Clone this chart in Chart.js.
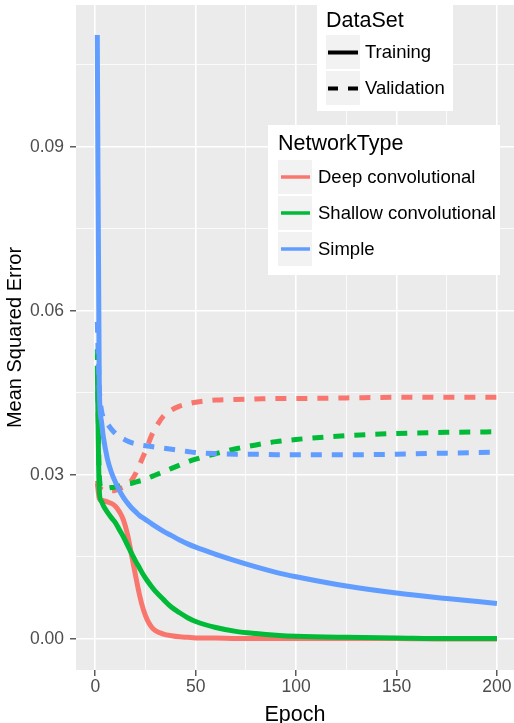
<!DOCTYPE html>
<html>
<head>
<meta charset="utf-8">
<title>Mean Squared Error per Epoch</title>
<script src="https://cdn.jsdelivr.net/npm/chart.js@4"></script>
<style>
  html, body { margin: 0; padding: 0; background: #ffffff; }
  #wrap { width: 514px; height: 723px; }
</style>
</head>
<body>
<div id="wrap"><canvas id="graficoMSE" width="514" height="723"></canvas></div>
<script>
// --- dados ---
const epochs = [1, 2, 3, 4, 6, 8, 10, 12, 14, 16, 18, 20, 22, 24, 26, 28, 30, 34, 38, 42, 46, 50, 60, 70, 80, 90, 100, 125, 150, 175, 200];

const deepTraining = [0.0285, 0.0257, 0.0254, 0.0253, 0.0251, 0.0248, 0.0243, 0.0233, 0.0218, 0.0192, 0.0155, 0.0117, 0.0081, 0.0053, 0.0034, 0.0022, 0.0015, 0.0009, 0.0006, 0.0004, 0.0003, 0.0002, 0.0002, 0.0001, 0.0001, 0.0001, 0.0001, 0.0001, 0.0001, 0.0000, 0.0000];
const deepValidation = [0.0290, 0.0278, 0.0274, 0.0272, 0.0271, 0.0271, 0.0272, 0.0275, 0.0278, 0.0283, 0.0290, 0.0302, 0.0318, 0.0335, 0.0353, 0.0372, 0.0386, 0.0408, 0.0419, 0.0426, 0.0430, 0.0433, 0.0437, 0.0438, 0.0439, 0.0440, 0.0440, 0.0441, 0.0442, 0.0442, 0.0442];

const shallowTraining = [0.0500, 0.0270, 0.0252, 0.0244, 0.0232, 0.0222, 0.0213, 0.0200, 0.0187, 0.0172, 0.0157, 0.0143, 0.0130, 0.0117, 0.0106, 0.0096, 0.0087, 0.0072, 0.0058, 0.0048, 0.0039, 0.0032, 0.0021, 0.0014, 0.0010, 0.0007, 0.0005, 0.0003, 0.0002, 0.0001, 0.0001];
const shallowValidation = [0.0530, 0.0300, 0.0277, 0.0276, 0.0276, 0.0277, 0.0278, 0.0280, 0.0282, 0.0284, 0.0285, 0.0287, 0.0289, 0.0291, 0.0294, 0.0297, 0.0300, 0.0306, 0.0312, 0.0318, 0.0324, 0.0329, 0.0339, 0.0348, 0.0355, 0.0361, 0.0365, 0.0372, 0.0376, 0.0378, 0.0379];

const simpleTraining = [0.1105, 0.0460, 0.0400, 0.0370, 0.0330, 0.0305, 0.0287, 0.0272, 0.0259, 0.0249, 0.0240, 0.0233, 0.0226, 0.0221, 0.0216, 0.0211, 0.0206, 0.0197, 0.0189, 0.0181, 0.0174, 0.0168, 0.0155, 0.0143, 0.0132, 0.0122, 0.0114, 0.0097, 0.0084, 0.0074, 0.0065];
const simpleValidation = [0.0580, 0.0460, 0.0420, 0.0405, 0.0394, 0.0384, 0.0376, 0.0370, 0.0366, 0.0362, 0.0359, 0.0357, 0.0355, 0.0354, 0.0353, 0.0352, 0.0351, 0.0349, 0.0347, 0.0345, 0.0343, 0.0341, 0.0339, 0.0338, 0.0338, 0.0337, 0.0337, 0.0337, 0.0338, 0.0340, 0.0342];

// eixos
const xTicks = [0, 25, 50, 75, 100, 125, 150, 175, 200];
const xMajor = [0, 50, 100, 150, 200];
const yTicks = [0, 0.015, 0.03, 0.045, 0.06, 0.075, 0.09, 0.105];
const yMajor = [0, 0.03, 0.06, 0.09];

// legendas
const networkTypes = ["Deep convolutional", "Shallow convolutional", "Simple"];
const dataSets = ["Training", "Validation"];

// --- estilo ---
const CORES = ["#F8766D", "#00BA38", "#619CFF"];
const FONTE = "'Liberation Sans', Arial, sans-serif";

function pontos(vals) {
    return epochs.map((e, i) => ({ x: e, y: vals[i] }));
}

function isMajor(lista, v) {
    return lista.some(m => Math.abs(m - v) < 1e-9);
}

function serie(label, vals, cor, tracejado) {
    return {
        label: label,
        data: pontos(vals),
        borderColor: cor,
        borderWidth: 5,
        borderDash: tracejado ? [11, 10] : [],
        borderCapStyle: "butt",
        borderJoinStyle: "round",
        pointRadius: 0,
        fill: false,
        cubicInterpolationMode: "monotone"
    };
}

// fundo cinza do painel
const painelFundo = {
    id: "painelFundo",
    beforeDraw(chart) {
        const { ctx, chartArea: a } = chart;
        ctx.save();
        ctx.fillStyle = "#EBEBEB";
        ctx.fillRect(a.left, a.top, a.right - a.left, a.bottom - a.top);
        ctx.restore();
    }
};

// legendas no estilo ggplot
const legendas = {
    id: "legendas",
    afterDraw(chart) {
        const ctx = chart.ctx;
        ctx.save();

        // DataSet
        ctx.fillStyle = "#ffffff";
        ctx.fillRect(317, 2, 136, 109);
        ctx.fillStyle = "#000000";
        ctx.textBaseline = "middle";
        ctx.textAlign = "left";
        ctx.font = "21.5px " + FONTE;
        ctx.fillText("DataSet", 326, 21);
        ctx.font = "18.5px " + FONTE;
        dataSets.forEach((nome, i) => {
            const y0 = 35 + i * 36;
            ctx.fillStyle = "#F2F2F2";
            ctx.fillRect(326, y0, 34, 34);
            ctx.strokeStyle = "#000000";
            ctx.lineWidth = 4;
            ctx.lineCap = "butt";
            ctx.setLineDash(i === 1 ? [10, 10] : []);
            ctx.beginPath();
            ctx.moveTo(328, y0 + 17.5);
            ctx.lineTo(358, y0 + 17.5);
            ctx.stroke();
            ctx.setLineDash([]);
            ctx.fillStyle = "#000000";
            ctx.fillText(nome, 365, y0 + 18);
        });

        // NetworkType
        ctx.fillStyle = "#ffffff";
        ctx.fillRect(268, 125, 232, 150);
        ctx.fillStyle = "#000000";
        ctx.font = "21.5px " + FONTE;
        ctx.fillText("NetworkType", 278, 144);
        ctx.font = "18.5px " + FONTE;
        networkTypes.forEach((nome, i) => {
            const y0 = 160 + i * 36;
            ctx.fillStyle = "#F2F2F2";
            ctx.fillRect(278, y0, 34, 34);
            ctx.strokeStyle = CORES[i];
            ctx.lineWidth = 3.5;
            ctx.beginPath();
            ctx.moveTo(281, y0 + 17);
            ctx.lineTo(310, y0 + 17);
            ctx.stroke();
            ctx.fillStyle = "#000000";
            ctx.fillText(nome, 318, y0 + 18);
        });

        ctx.restore();
    }
};

const ctxMSE = document.getElementById("graficoMSE");

new Chart(ctxMSE, {
    type: "line",
    data: {
        datasets: [
            serie("Simple - Training", simpleTraining, CORES[2], false),
            serie("Simple - Validation", simpleValidation, CORES[2], true),
            serie("Shallow convolutional - Training", shallowTraining, CORES[1], false),
            serie("Shallow convolutional - Validation", shallowValidation, CORES[1], true),
            serie("Deep convolutional - Training", deepTraining, CORES[0], false),
            serie("Deep convolutional - Validation", deepValidation, CORES[0], true)
        ]
    },
    options: {
        responsive: false,
        animation: false,
        devicePixelRatio: 1,
        layout: { padding: { top: 5, right: 0, bottom: 0, left: 0 } },
        plugins: {
            legend: { display: false },
            tooltip: { enabled: false }
        },
        scales: {
            x: {
                type: "linear",
                min: -9.6,
                max: 208.5,
                afterFit: s => { s.height = 53; s.paddingLeft = 0; s.paddingRight = 0; },
                afterBuildTicks: s => { s.ticks = xTicks.map(v => ({ value: v })); },
                border: { display: false },
                grid: {
                    color: "#ffffff",
                    lineWidth: c => isMajor(xMajor, c.tick.value) ? 1.6 : 0.8,
                    tickColor: c => isMajor(xMajor, c.tick.value) ? "#333333" : "rgba(0,0,0,0)",
                    tickLength: 6,
                    tickWidth: 1.2
                },
                ticks: {
                    autoSkip: false,
                    maxRotation: 0,
                    padding: 1,
                    color: "#4D4D4D",
                    font: { family: FONTE, size: 17.5 },
                    callback: v => isMajor(xMajor, v) ? String(v) : ""
                },
                title: {
                    display: true,
                    text: "Epoch",
                    color: "#000000",
                    font: { family: FONTE, size: 21.5, lineHeight: 1 },
                    padding: { top: 0, bottom: -3 }
                }
            },
            y: {
                type: "linear",
                min: -0.00567,
                max: 0.11597,
                afterFit: s => { s.width = 76; s.paddingTop = 0; s.paddingBottom = 0; },
                afterBuildTicks: s => { s.ticks = yTicks.map(v => ({ value: v })); },
                border: { display: false },
                grid: {
                    color: "#ffffff",
                    lineWidth: c => isMajor(yMajor, c.tick.value) ? 1.6 : 0.8,
                    tickColor: c => isMajor(yMajor, c.tick.value) ? "#333333" : "rgba(0,0,0,0)",
                    tickLength: 6,
                    tickWidth: 1.2
                },
                ticks: {
                    autoSkip: false,
                    padding: 6,
                    color: "#4D4D4D",
                    font: { family: FONTE, size: 17.5 },
                    callback: v => isMajor(yMajor, v) ? v.toFixed(2) : ""
                },
                title: {
                    display: true,
                    text: "Mean Squared Error",
                    color: "#000000",
                    font: { family: FONTE, size: 20, lineHeight: 1 },
                    padding: { top: 5, bottom: 0 }
                }
            }
        }
    },
    plugins: [painelFundo, legendas]
});
</script>
</body>
</html>
